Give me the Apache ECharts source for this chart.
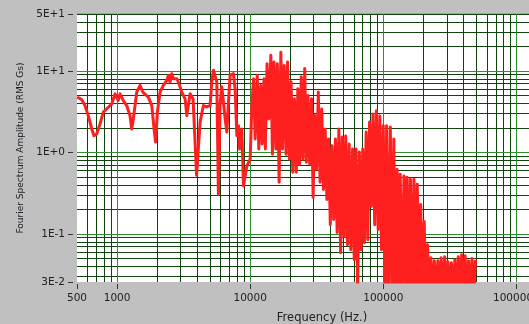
<!DOCTYPE html>
<html><head><meta charset="utf-8">
<script src="https://cdn.jsdelivr.net/npm/echarts@6/dist/echarts.min.js"></script>
<style>html,body{margin:0;padding:0;background:#c0c0c0;overflow:hidden;width:529px;height:324px}#c{width:580px;height:324px}</style>
</head><body><div id="c"></div><script>
// Low-frequency part of the spectrum (Hz, RMS Gs)
const freqLow = [502, 542, 574, 608, 645, 671, 703, 745, 788, 860, 912, 966, 1022, 1052, 1114, 1182, 1251, 1289, 1325, 1406, 1489, 1560, 1718, 1823, 1897, 1946, 2009, 2104, 2228, 2362, 2429, 2500, 2576, 2649, 2810, 2888, 3063, 3244, 3341, 3537, 3725, 3957, 4207, 4453, 4722, 5000, 5150, 5296, 5454, 5613, 5772, 5943, 6120, 6295, 6486, 6677, 6823, 7068, 7482, 7709, 7937, 8166, 8337, 8655, 8899, 9441];
const ampLow = [4.78, 4.46, 3.76, 2.83, 1.94, 1.60, 1.68, 2.24, 3.12, 3.59, 3.95, 5.24, 4.34, 5.24, 4.34, 3.76, 2.83, 1.94, 2.58, 5.51, 6.64, 5.51, 4.78, 3.76, 1.94, 1.34, 3.12, 5.51, 6.64, 7.66, 8.83, 7.31, 9.26, 8.03, 8.03, 7.31, 5.51, 4.55, 2.83, 5.24, 4.55, 0.525, 2.37, 3.76, 3.62, 3.76, 7.38, 10.2, 10.7, 7.38, 0.306, 3.95, 6.40, 4.18, 2.58, 1.78, 3.42, 8.83, 9.26, 6.04, 1.60, 2.13, 1.10, 1.94, 0.387, 0.683];
// High-frequency (dense) part of the spectrum
const freqHigh = [10000, 10300, 10600, 10900, 11300, 11600, 12000, 12300, 12700, 13000, 13400, 13800, 14300, 14700, 15100, 15600, 16000, 16500, 17000, 17500, 18000, 18600, 19100, 19700, 20300, 20900, 21500, 22200, 22800, 23500, 24200, 24900, 25700, 26400, 27200, 28000, 28900, 29700, 30600, 31500, 32500, 33500, 34500, 35500, 36600, 37700, 38800, 40000, 41200, 42400, 43700, 45000, 46400, 47800, 49200, 50700, 52200, 53800, 55400, 57000, 58800, 60500, 62300, 64200, 66100, 68100, 70100, 72200, 74400, 76600, 78900, 81300, 83700, 86200, 88800, 91500, 94200, 97000, 100000, 103000, 106000, 109000, 113000, 116000, 120000, 123000, 127000, 130000, 134000, 138000, 143000, 147000, 151000, 156000, 160000, 165000, 170000, 175000, 180000, 186000, 191000, 197000, 203000, 209000, 215000, 222000, 228000, 235000, 242000, 249000, 257000, 264000, 272000, 280000, 289000, 297000, 306000, 315000, 325000, 335000, 345000, 355000, 366000, 377000, 388000, 400000, 412000, 424000, 437000, 450000, 464000, 478000, 492000];
const ampHigh = [0.827, 3.76, 8.03, 1.46, 8.83, 1.10, 6.64, 1.27, 8.03, 1.10, 12.3, 2.58, 15.6, 0.953, 12.9, 1.10, 12.3, 0.43, 17.0, 1.10, 11.7, 0.953, 12.9, 0.827, 7.38, 0.571, 4.55, 0.571, 6.04, 0.717, 8.5, 0.827, 10.7, 0.759, 5.0, 0.717, 4.55, 0.281, 2.83, 0.622, 5.51, 0.43, 3.42, 0.352, 1.94, 0.265, 1.46, 0.13, 1.21, 0.15, 1.46, 0.104, 1.94, 0.0588, 1.55, 0.0927, 1.59, 0.0738, 1.27, 0.064, 1.10, 0.0482, 1.10, 0.02, 1.01, 0.064, 1.10, 0.078, 1.78, 0.085, 2.37, 0.218, 2.97, 0.13, 3.24, 0.113, 2.81, 0.064, 2.13, 0.015, 2.13, 0.015, 2.05, 0.015, 1.46, 0.015, 0.622, 0.015, 0.54, 0.015, 0.514, 0.015, 0.496, 0.015, 0.468, 0.015, 0.468, 0.015, 0.406, 0.015, 0.23, 0.015, 0.142, 0.015, 0.0738, 0.015, 0.051, 0.015, 0.0468, 0.015, 0.0468, 0.015, 0.051, 0.015, 0.0525, 0.015, 0.0457, 0.015, 0.0442, 0.015, 0.048, 0.015, 0.0525, 0.015, 0.0555, 0.015, 0.054, 0.015, 0.0468, 0.015, 0.05, 0.015, 0.048];

const xTickLabels = ['500', '1000', '10000', '100000', '1000000'];
const yTickLabels = ['3E-2', '1E-1', '1E+0', '1E+1', '5E+1'];
const xGridMajor = [1000, 10000, 100000, 1000000];
const xGridMinor = [600, 700, 800, 900, 2000, 3000, 4000, 5000, 6000, 7000, 8000, 9000, 20000, 30000, 40000, 50000, 60000, 70000, 80000, 90000, 200000, 300000, 400000, 500000, 600000, 700000, 800000, 900000, 2000000];
const yGridMajor = [0.1, 1, 10];
const yGridMinor = [0.03, 0.04, 0.05, 0.06, 0.07, 0.08, 0.09, 0.2, 0.3, 0.4, 0.5, 0.6, 0.7, 0.8, 0.9, 2, 3, 4, 5, 6, 7, 8, 9, 20, 30, 40, 50];

const seriesData = [];
freqLow.forEach((f, i) => seriesData.push([f, ampLow[i]]));
freqHigh.forEach((f, i) => seriesData.push([f, ampHigh[i]]));

const FONT = 'DejaVu Sans';
const TXT = '#202028';
const minorStyle = { color: '#0f440f', width: 1, type: 'solid' };
const majorStyle = { color: '#2f8f2f', width: 1, type: 'solid' };
const gridLines = []
  .concat(xGridMinor.map(v => ({ xAxis: v, lineStyle: minorStyle })))
  .concat(yGridMinor.map(v => ({ yAxis: v, lineStyle: minorStyle })))
  .concat(xGridMajor.map(v => ({ xAxis: v, lineStyle: majorStyle })))
  .concat(yGridMajor.map(v => ({ yAxis: v, lineStyle: majorStyle })));

const chart = echarts.init(document.getElementById('c'), null, { renderer: 'canvas' });
chart.setOption({
  animation: false,
  backgroundColor: '#c0c0c0',
  grid: { left: 77, top: 14, width: 490, height: 268, show: true, backgroundColor: '#ffffff', borderWidth: 0,
          containLabel: false, outerBoundsMode: 'none' },
  xAxis: {
    type: 'log', logBase: 10, min: 500, max: 2400000, offset: 2,
    axisLine: { show: false },
    axisTick: { show: true, length: 5, lineStyle: { color: '#333' } },
    splitLine: { show: false },
    axisLabel: {
      margin: 9, fontFamily: FONT, fontSize: 10.5, color: TXT, showMinLabel: true, showMaxLabel: true,
      formatter: v => { const s = String(Math.round(v)); return xTickLabels.includes(s) ? s : ''; }
    },
    name: 'Frequency (Hz.)', nameLocation: 'middle', nameGap: 28,
    nameTextStyle: { fontFamily: FONT, fontSize: 11.5, color: TXT }
  },
  yAxis: {
    type: 'log', logBase: 10, min: 0.0257, max: 50, offset: 4,
    axisLine: { show: false },
    axisTick: { show: true, length: 5, lineStyle: { color: '#333' } },
    splitLine: { show: false },
    axisLabel: {
      margin: 8, fontFamily: FONT, fontSize: 10.5, color: TXT, showMinLabel: true, showMaxLabel: true,
      padding: [3, 0, 0, 0],
      formatter: v => { const s = Number(v).toExponential(0).toUpperCase(); return yTickLabels.includes(s) ? s : ''; }
    },
    name: 'Fourier Spectrum Amplitude (RMS Gs)', nameLocation: 'middle', nameGap: 45,
    nameTextStyle: { fontFamily: FONT, fontSize: 9, color: TXT }
  },
  graphic: [{ type: 'rect', shape: { x: 77, y: 13, width: 460, height: 1 }, style: { fill: '#a4a4a4' }, silent: true }],
  series: [
    {
      type: 'line', data: [], z: 1, zlevel: 0, silent: true, showSymbol: false,
      markLine: { z: 1, zlevel: 0, silent: true, symbol: ['none', 'none'], label: { show: false }, animation: false, data: gridLines }
    },
    {
      type: 'line', data: seriesData, z: 3, zlevel: 1, silent: true, showSymbol: false, symbol: 'none', clip: true,
      lineStyle: { color: '#ff1f1f', width: 3, join: 'round' }
    }
  ]
});
</script></body></html>
